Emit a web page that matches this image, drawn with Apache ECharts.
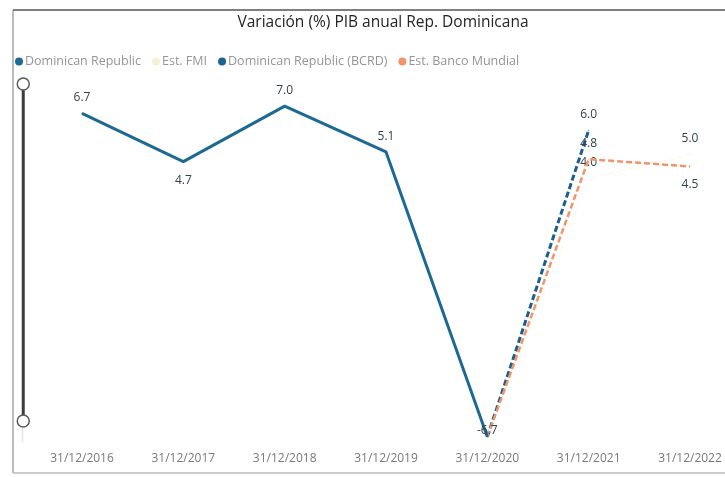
<!DOCTYPE html>
<html>
<head>
<meta charset="utf-8">
<style>
  html, body { margin: 0; padding: 0; background: #ffffff; }
  #chart { width: 725px; height: 477px; }
</style>
<script src="https://cdn.jsdelivr.net/npm/echarts@6/dist/echarts.min.js"></script>
</head>
<body>
<div id="chart"></div>
<script>
// Year-end dates on the category axis
var categories = ['31/12/2016', '31/12/2017', '31/12/2018', '31/12/2019', '31/12/2020', '31/12/2021', '31/12/2022'];

// Annual GDP growth (%), observed
var drValues = [6.7, 4.7, 7.0, 5.1, -6.7, null, null];
// Central bank (BCRD) estimate
var bcrdValues = [null, null, null, null, -6.7, 6.0, null];
// IMF estimate
var fmiValues = [null, null, null, null, -6.7, 4.0, 5.0];
// World Bank estimate
var bmValues = [null, null, null, null, -6.7, 4.8, 4.5];

// Label placement per point
var drLabelPos = ['top', 'bottom', 'top', 'top', 'top', 'top', 'top'];
var bmLabelPos = ['top', 'top', 'top', 'top', 'top', 'top', 'bottom'];

var labelColor = '#34424c';
var labelFont = 'Open Sans';

function withLabels(values, positions, firstLabelled) {
  return values.map(function (v, i) {
    if (v === null) return null;
    var show = i >= firstLabelled;
    return {
      value: v,
      label: {
        show: show,
        position: positions ? positions[i] : 'top',
        distance: (positions && positions[i] === 'bottom') ? 12 : (v < 0 ? 0 : 9)
      }
    };
  });
}

var baseLabel = {
  show: true,
  color: labelColor,
  fontFamily: labelFont,
  fontSize: 12,
  formatter: function (p) { return Number(p.value).toFixed(1); }
};

var chart = echarts.init(document.getElementById('chart'));

chart.setOption({
  animation: false,
  backgroundColor: '#ffffff',
  title: {
    text: 'Variación (%) PIB anual Rep. Dominicana',
    left: 378,
    textAlign: 'center',
    top: 10,
    textStyle: { fontFamily: 'Open Sans', fontSize: 15.5, fontWeight: 'normal', color: '#252423' }
  },
  legend: {
    left: 10,
    top: 50,
    icon: 'circle',
    itemWidth: 8,
    itemHeight: 8,
    itemGap: 11,
    textStyle: { fontFamily: 'Open Sans', fontSize: 12.5, color: '#959595', padding: [0, 0, 0, -3] },
    data: ['Dominican Republic', 'Est. FMI', 'Dominican Republic (BCRD)', 'Est. Banco Mundial']
  },
  grid: { left: 82, right: 35, top: 82, height: 362 },
  xAxis: {
    type: 'category',
    data: categories,
    boundaryGap: false,
    axisLine: { show: false },
    axisTick: { show: false },
    axisLabel: { color: '#7a7a7a', fontFamily: 'Open Sans', fontSize: 12, margin: 9 }
  },
  yAxis: {
    type: 'value',
    min: -7,
    max: 8,
    show: false,
    splitLine: { show: false }
  },
  dataZoom: [{
    type: 'slider',
    yAxisIndex: 0,
    orient: 'vertical',
    filterMode: 'none',
    start: 0,
    end: 100,
    left: 21,
    width: 3,
    top: 83,
    bottom: 55,
    showDetail: false,
    showDataShadow: false,
    brushSelect: false,
    moveHandleSize: 0,
    backgroundColor: 'rgba(0,0,0,0)',
    borderColor: 'rgba(0,0,0,0)',
    fillerColor: '#3c3c3c',
    handleIcon: 'circle',
    handleSize: 12,
    handleStyle: { color: '#ffffff', borderColor: '#5a5a5a', borderWidth: 1.5 },
    emphasis: { handleStyle: { color: '#ffffff', borderColor: '#5a5a5a', borderWidth: 1.5 } }
  }],
  graphic: [
    { type: 'line', shape: { x1: 13, y1: 10, x2: 725, y2: 10 }, style: { stroke: '#555555', lineWidth: 1.5 }, silent: true },
    { type: 'line', shape: { x1: 13, y1: 10, x2: 13, y2: 473 }, style: { stroke: '#777777', lineWidth: 1 }, silent: true },
    { type: 'line', shape: { x1: 13, y1: 473, x2: 725, y2: 473 }, style: { stroke: '#bbbbbb', lineWidth: 1.5 }, silent: true },
    { type: 'line', shape: { x1: 22.5, y1: 428, x2: 22.5, y2: 442 }, style: { stroke: '#e2e2e2', lineWidth: 1.5 }, silent: true }
  ],
  series: [
    {
      name: 'Dominican Republic',
      type: 'line',
      data: withLabels(drValues, drLabelPos, 0),
      symbol: 'circle',
      symbolSize: 1,
      lineStyle: { color: '#1c6a94', width: 3 },
      itemStyle: { color: '#1c6a94' },
      label: baseLabel,
      z: 4
    },
    {
      name: 'Est. FMI',
      type: 'line',
      data: withLabels(fmiValues, null, 5),
      symbol: 'circle',
      symbolSize: 1,
      lineStyle: { color: '#fdfcf3', width: 2, type: [5, 3] },
      itemStyle: { color: '#f5f1d4' },
      label: baseLabel,
      z: 2
    },
    {
      name: 'Dominican Republic (BCRD)',
      type: 'line',
      data: withLabels(bcrdValues, null, 5),
      symbol: 'circle',
      symbolSize: 1,
      lineStyle: { color: '#1a5f8e', width: 3, type: [6, 3] },
      itemStyle: { color: '#1a6394' },
      label: baseLabel,
      z: 3
    },
    {
      name: 'Est. Banco Mundial',
      type: 'line',
      data: withLabels(bmValues, bmLabelPos, 5),
      symbol: 'circle',
      symbolSize: 1,
      lineStyle: { color: '#f0946a', width: 2.5, type: [6, 3] },
      itemStyle: { color: '#f0946a' },
      label: baseLabel,
      z: 3
    }
  ]
});
</script>
</body>
</html>
